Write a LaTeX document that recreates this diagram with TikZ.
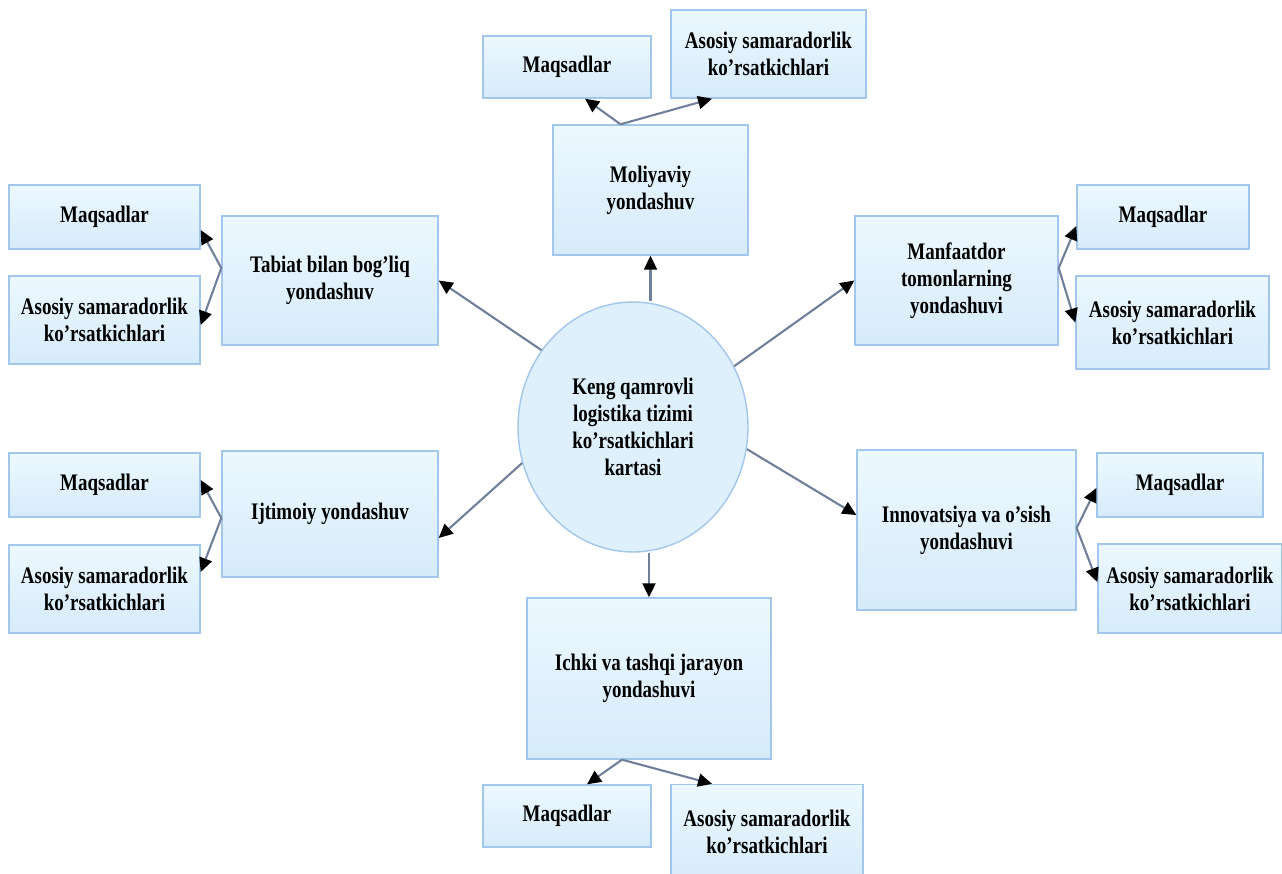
\documentclass[tikz,border=0pt]{standalone}
\usepackage{fontspec}
\setmainfont{Liberation Serif}[FakeStretch=0.8]
\usepackage{tikz}
\usetikzlibrary{arrows.meta,positioning,calc,shapes.geometric}
\definecolor{boxtop}{RGB}{236,248,255}
\definecolor{boxbot}{RGB}{214,235,250}
\definecolor{boxedge}{RGB}{163,198,236}
\definecolor{ellfill}{RGB}{222,240,252}
\definecolor{linkgray}{RGB}{112,128,155}

\begin{document}
\begin{tikzpicture}[
  x=0.02cm, y=-0.02cm,
  font=\fontsize{13.5}{15.4}\selectfont\bfseries,
  >={Triangle[length=2.8mm,width=2.6mm,color=black]},
  card/.style={rectangle, draw=boxedge, line width=0.8pt, top color=boxtop, bottom color=boxbot, align=center, inner sep=2pt},
  hub/.style={ellipse, draw=boxedge, line width=0.8pt, fill=ellfill, align=center, inner sep=0pt, minimum width=4.6cm, minimum height=5cm},
  goal/.style={card, minimum height=1.28cm},
  kpi/.style={card, minimum height=1.76cm},
  link/.style={->, draw=linkgray, line width=1.2pt},
]
\useasboundingbox (0,0) rectangle (1282,873);

\node[hub] (keng) at (633,427) {Keng qamrovli\\logistika tizimi\\ko’rsatkichlari\\kartasi};

\node[card, minimum width=3.9cm, minimum height=2.6cm] (moliya) at (650.5,190) {Moliyaviy\\yondashuv};
\node[goal, minimum width=3.36cm, minimum height=1.24cm] (moliyaM) at (567,67) {Maqsadlar};
\node[kpi, minimum width=3.9cm] (moliyaK) at (768.5,54) {Asosiy samaradorlik\\ko’rsatkichlari};

\node[card, minimum width=4.32cm, minimum height=2.58cm] (tabiat) at (330,280.5) {Tabiat bilan bog’liq\\yondashuv};
\node[goal, minimum width=3.82cm] (tabiatM) at (104.5,217) {Maqsadlar};
\node[kpi, minimum width=3.82cm] (tabiatK) at (104.5,320) {Asosiy samaradorlik\\ko’rsatkichlari};

\node[card, minimum width=4.32cm, minimum height=2.52cm] (ijtimoiy) at (330,514) {Ijtimoiy yondashuv};
\node[goal, minimum width=3.82cm] (ijtimoiyM) at (104.5,485) {Maqsadlar};
\node[kpi, minimum width=3.82cm] (ijtimoiyK) at (104.5,589) {Asosiy samaradorlik\\ko’rsatkichlari};

\node[card, minimum width=4.06cm, minimum height=2.58cm] (manfaat) at (956.5,280.5) {Manfaatdor\\tomonlarning\\yondashuvi};
\node[goal, minimum width=3.44cm] (manfaatM) at (1163,217) {Maqsadlar};
\node[kpi, minimum width=3.86cm, minimum height=1.86cm] (manfaatK) at (1172.5,322.5) {Asosiy samaradorlik\\ko’rsatkichlari};

\node[card, minimum width=4.38cm, minimum height=3.2cm] (innov) at (966.5,530) {Innovatsiya va o’sish\\yondashuvi};
\node[goal, minimum width=3.32cm] (innovM) at (1180,485) {Maqsadlar};
\node[kpi, minimum width=3.68cm, minimum height=1.78cm] (innovK) at (1190,588.5) {Asosiy samaradorlik\\ko’rsatkichlari};

\node[card, minimum width=4.88cm, minimum height=3.22cm] (jarayon) at (649,678.5) {Ichki va tashqi jarayon\\yondashuvi};
\node[goal, minimum width=3.36cm, minimum height=1.24cm] (jarayonM) at (567,816) {Maqsadlar};
\node[kpi, minimum width=3.84cm, minimum height=1.9cm] (jarayonK) at (767,832) {Asosiy samaradorlik\\ko’rsatkichlari};

\draw[link] (moliya.south |- keng.north) -- (moliya.south);
\draw[link] (jarayon.north |- keng.south) -- (jarayon.north);
\draw[link] (keng.140) -- (tabiat.east);
\draw[link] (keng.31) -- (manfaat.west);
\draw[link] (keng.198) -- ([yshift=-0.48cm]ijtimoiy.east);
\draw[link] (keng.349) -- ([yshift=0.3cm]innov.west);

\draw[link] ([xshift=-0.6cm]moliya.north) -- ([xshift=0.36cm]moliyaM.south);
\draw[link] ([xshift=-0.6cm]moliya.north) -- ([xshift=-1.13cm]moliyaK.south);
\draw[link] ([yshift=0.25cm]tabiat.west) -- ([yshift=-0.26cm]tabiatM.east);
\draw[link] ([yshift=0.25cm]tabiat.west) -- ([yshift=-0.1cm]tabiatK.east);
\draw[link] ([yshift=-0.08cm]ijtimoiy.west) -- ([yshift=0.1cm]ijtimoiyM.east);
\draw[link] ([yshift=-0.08cm]ijtimoiy.west) -- ([yshift=0.34cm]ijtimoiyK.east);
\draw[link] ([yshift=0.25cm]manfaat.east) -- ([yshift=-0.18cm]manfaatM.west);
\draw[link] ([yshift=0.25cm]manfaat.east) -- (manfaatK.west);
\draw[link] ([yshift=0.04cm]innov.east) -- ([yshift=-0.06cm]innovM.west);
\draw[link] ([yshift=0.04cm]innov.east) -- ([yshift=0.13cm]innovK.west);
\draw[link] ([xshift=-0.54cm]jarayon.south) -- ([xshift=0.4cm]jarayonM.north);
\draw[link] ([xshift=-0.54cm]jarayon.south) -- ([xshift=-1.1cm]jarayonK.north);
\end{tikzpicture}
\end{document}
